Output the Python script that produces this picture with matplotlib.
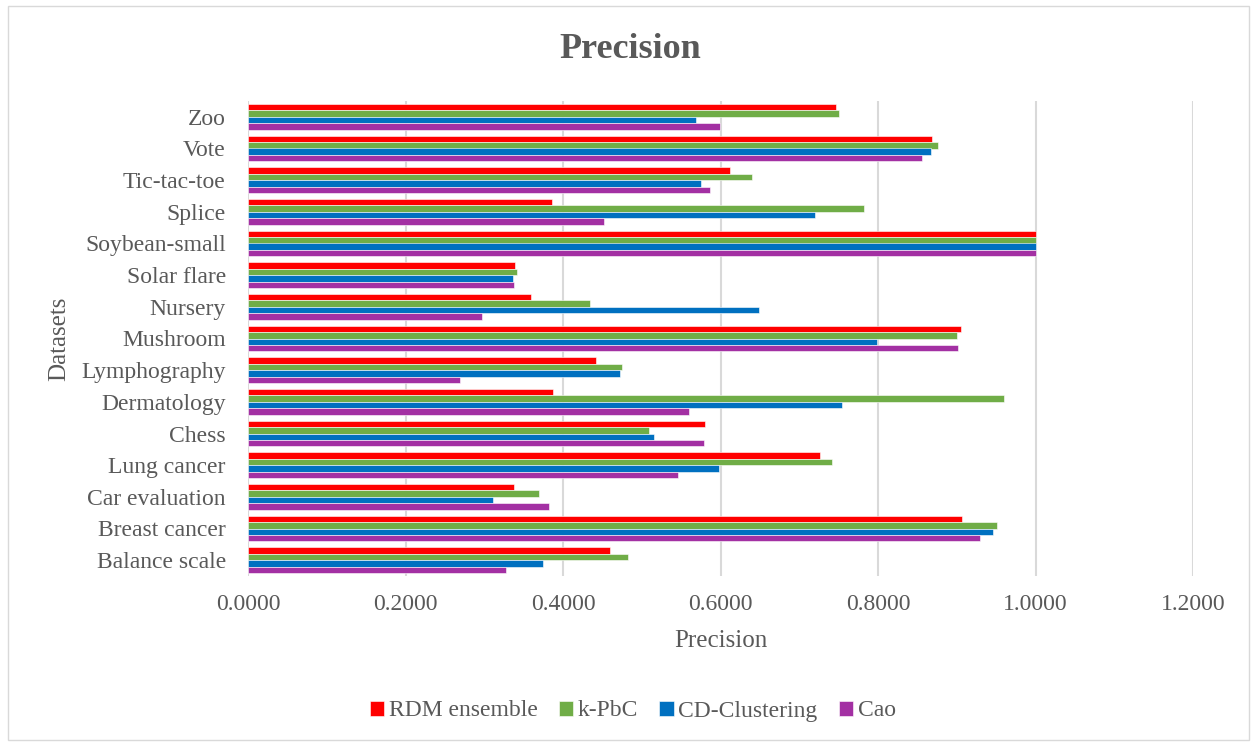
#!/usr/bin/env python3
# coding: utf-8

"""
Precision per dataset, horizontal grouped bars
"""

import matplotlib.pyplot as plt
import numpy as np
from matplotlib.patches import Rectangle

datasets = ["Balance scale", "Breast cancer", "Car evaluation", "Lung cancer", "Chess",
            "Dermatology", "Lymphography", "Mushroom", "Nursery", "Solar flare",
            "Soybean-small", "Splice", "Tic-tac-toe", "Vote", "Zoo"]

rdm = [0.4597, 0.9065, 0.3378, 0.7268, 0.5797, 0.3877, 0.4419, 0.9056, 0.3588, 0.3389,
       1.0000, 0.3857, 0.6123, 0.8686, 0.7469]
kpbc = [0.4825, 0.9514, 0.3698, 0.7415, 0.5089, 0.9606, 0.4744, 0.8997, 0.4346, 0.3415,
        1.0000, 0.7818, 0.6397, 0.8762, 0.7504]
cd_clust = [0.3748, 0.9465, 0.3114, 0.5975, 0.5157, 0.7538, 0.4718, 0.7987, 0.6485, 0.3369,
            1.0000, 0.7195, 0.5750, 0.8669, 0.5686]
cao = [0.3280, 0.9292, 0.3828, 0.5465, 0.5791, 0.5600, 0.2691, 0.9017, 0.2970, 0.3375,
       1.0000, 0.4521, 0.5861, 0.8564, 0.5995]

series = [("RDM ensemble", rdm, "#FF0000"),
          ("k-PbC", kpbc, "#70AD47"),
          ("CD-Clustering", cd_clust, "#0070C0"),
          ("Cao", cao, "#A330A3")]

xticks = [0.0, 0.2, 0.4, 0.6, 0.8, 1.0, 1.2]

TXT = "#595959"
plt.rcParams['font.family'] = ['Liberation Serif', 'DejaVu Serif']

fig = plt.figure(figsize=(12.53, 7.43), dpi=100)
ax = fig.add_axes([248 / 1253, 1 - 576 / 743, (1193 - 248) / 1253, (576 - 101) / 743])

y = np.arange(len(datasets))
h = 0.205
for k, (name, vals, col) in enumerate(series):
    # first series on top of each group
    ax.barh(y + (1.5 - k) * h, vals, height=h, color=col, label=name,
            edgecolor="white", linewidth=0.4, zorder=3)

ax.set_xlim(0, 1.2)
ax.set_ylim(-0.5, len(datasets) - 0.5)
ax.set_xticks(xticks)
ax.set_xticklabels([f"{v:.4f}" for v in xticks])
ax.set_yticks(y)
ax.set_yticklabels(datasets)
ax.tick_params(axis="both", length=0, labelsize=17, colors=TXT)
ax.tick_params(axis="x", pad=13)
ax.tick_params(axis="y", pad=16)
ax.grid(axis="x", color="#D9D9D9", linewidth=1.5, zorder=0)
for s in ax.spines.values():
    s.set_visible(False)

ax.set_xlabel("Precision", fontsize=18, color=TXT, labelpad=11)
ax.set_ylabel("Datasets", fontsize=18, color=TXT, labelpad=8)
fig.text(0.503, 0.933, "Precision", ha="center", va="center", fontsize=26,
         fontweight="bold", color=TXT)

leg = fig.legend(loc="center", bbox_to_anchor=(0.505, 1 - 711 / 743), ncol=4,
                 frameon=False, fontsize=17, handlelength=0.6, handleheight=0.6,
                 handletextpad=0.2, columnspacing=0.9, labelcolor=TXT)

fig.patches.append(Rectangle((8 / 1253, 3 / 743), 1241 / 1253, 734 / 743,
                             transform=fig.transFigure, fill=False,
                             edgecolor="#D9D9D9", linewidth=1))

fig.savefig("out.png", dpi=100)
